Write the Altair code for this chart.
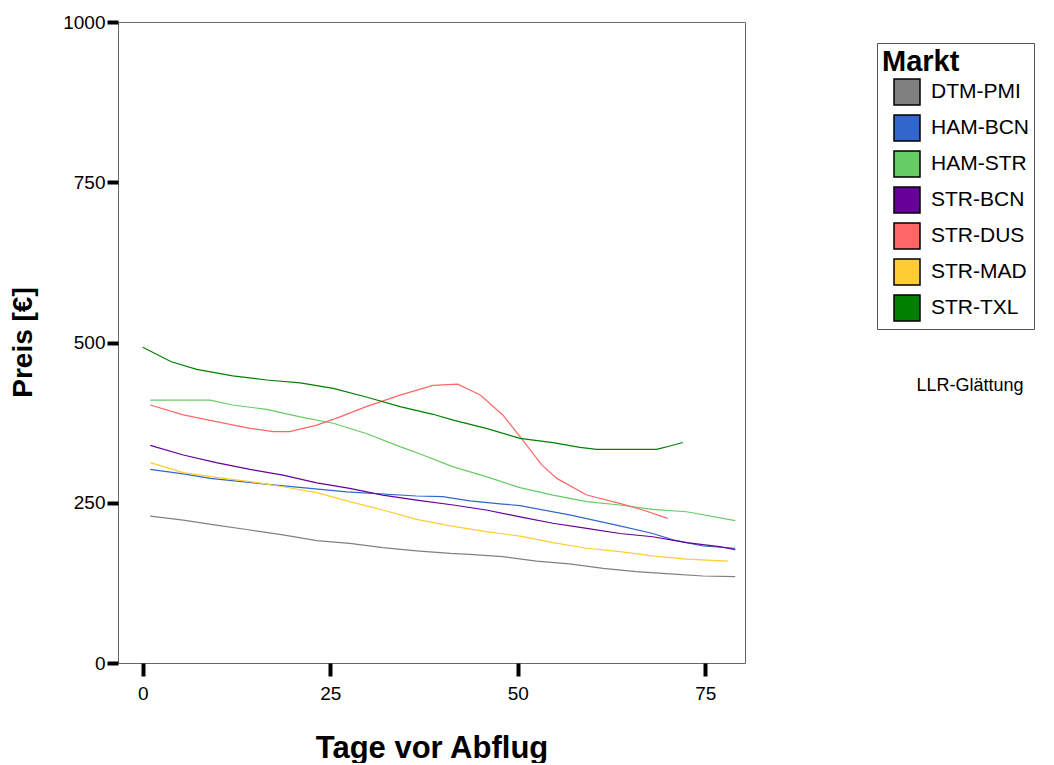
import altair as alt
import pandas as pd

markets = ["DTM-PMI", "HAM-BCN", "HAM-STR", "STR-BCN", "STR-DUS", "STR-MAD", "STR-TXL"]
colors = ["#808080", "#3366CC", "#66CC66", "#660099", "#FF6666", "#FFCC33", "#008000"]

dtm_pmi_days = [1, 5.4, 9.8, 14.3, 18.7, 23.2, 27.6, 32, 36.5, 41, 43.6, 48, 52.5, 56.9, 61.4, 65.8, 70.3, 74.7, 79]
dtm_pmi_vals = [229, 223, 215, 207.5, 200, 191, 186.7, 180, 175, 171, 169.5, 166, 159, 154.5, 147.7, 142.5, 139, 135.7, 134.6]

ham_bcn_days = [1, 5.4, 9, 17.4, 27.2, 36.5, 40, 43.6, 48, 50.3, 56.9, 63.6, 68, 70.7, 74.7, 79]
ham_bcn_vals = [302, 295, 288, 278, 267, 260.5, 259.5, 253, 248, 245.5, 231, 214, 202, 192, 182.5, 179]

ham_str_days = [1, 9, 12, 16.5, 21, 25.4, 29.8, 34.3, 37, 41.4, 45.8, 50.3, 54.7, 59.2, 63.6, 68, 72.5, 79]
ham_str_vals = [410, 410, 402.5, 395.7, 384, 374, 358, 337.5, 326, 306, 290.7, 273.5, 262, 251.7, 246.5, 239.7, 236, 222]

str_bcn_days = [1, 5.4, 9.8, 14.3, 18.7, 23.2, 27.6, 32, 36.5, 41.4, 45.8, 50.3, 54.7, 59.2, 63.6, 68, 72.5, 76.9, 79]
str_bcn_vals = [339.6, 324.5, 312.5, 302, 293, 281, 272.5, 262, 254, 246.5, 238.7, 228, 218, 210, 202, 197, 187.7, 181.5, 177]

str_dus_days = [1, 5.4, 9.8, 14.3, 17.4, 19.6, 23.2, 26.3, 29.8, 34.3, 38.7, 42, 45, 48, 50.3, 53.2, 55.2, 59.2, 63.6, 66.7, 70]
str_dus_vals = [402.5, 387, 376.5, 366, 361, 361, 371, 384, 400, 418, 433, 435, 418, 387, 353, 309, 288, 262, 249, 238.7, 225.7]

str_mad_days = [1, 5.4, 9.8, 14.3, 18.7, 23.2, 27.6, 32, 36.5, 41, 45.8, 50.3, 54.7, 59.2, 63.6, 68, 72.5, 78]
str_mad_vals = [312.5, 297, 289.7, 283, 275, 265.7, 251.7, 238.7, 224, 214, 205, 198, 187.7, 179, 173.7, 167, 162, 159]

str_txl_days = [0, 3.8, 7.2, 12, 16.5, 21, 25.4, 29.8, 34.3, 38.7, 41.4, 45.8, 50.3, 54.7, 58.3, 60.5, 68.5, 70.3, 72]
str_txl_vals = [492.5, 470, 458, 448, 441.5, 437, 428.5, 415, 400, 388, 379, 366, 350.5, 343.7, 336.5, 333.4, 333.4, 338.5, 344]

series = {
    "DTM-PMI": (dtm_pmi_days, dtm_pmi_vals),
    "HAM-BCN": (ham_bcn_days, ham_bcn_vals),
    "HAM-STR": (ham_str_days, ham_str_vals),
    "STR-BCN": (str_bcn_days, str_bcn_vals),
    "STR-DUS": (str_dus_days, str_dus_vals),
    "STR-MAD": (str_mad_days, str_mad_vals),
    "STR-TXL": (str_txl_days, str_txl_vals),
}

rows = []
for m in markets:
    d, v = series[m]
    for a, b in zip(d, v):
        rows.append({"market": m, "day": a, "price": b})
df = pd.DataFrame(rows)

FONT = "Liberation Sans"
color_scale = alt.Scale(domain=markets, range=colors)

lines = alt.Chart(df).mark_line(strokeWidth=1.2, clip=True).encode(
    x=alt.X("day:Q",
            scale=alt.Scale(domain=[-3.3, 80.3], nice=False, zero=False),
            axis=alt.Axis(values=[0, 25, 50, 75], title="Tage vor Abflug", format="d",
                          tickSize=13, labelPadding=8,
                          titleX=313.5, titleY=94, titleBaseline="alphabetic",
                          titleAlign="center")),
    y=alt.Y("price:Q",
            scale=alt.Scale(domain=[0, 1000], nice=False),
            axis=alt.Axis(values=[0, 250, 500, 750, 1000], title="Preis [€]", format="d",
                          tickSize=11, labelPadding=2,
                          titleX=-87, titleY=320, titleAngle=270,
                          titleBaseline="alphabetic", titleAlign="center")),
    color=alt.Color("market:N", scale=color_scale, legend=None),
)

# legend carrier: filled squares placed off-canvas, only their legend is visible
legend_df = pd.DataFrame({"market": markets})
keys = alt.Chart(legend_df).mark_square(filled=True, stroke="black", strokeWidth=1.5, size=676, opacity=1).encode(
    x=alt.value(-3000), y=alt.value(-3000),
    color=alt.Color("market:N", scale=color_scale,
                    legend=alt.Legend(
                        title="Markt", orient="none", legendX=759, legendY=21,
                        symbolType="square", symbolSize=676,
                        symbolStrokeColor="black", symbolStrokeWidth=1.5,
                        symbolOpacity=1,
                        symbolOffset=11,
                        labelOffset=10, rowPadding=4,
                        padding=5, strokeColor="#555555",
                        fillColor="white",
                        titleFontSize=29, titleFont=FONT, titleFontWeight="bold",
                        titleColor="black", titlePadding=1,
                        labelFontSize=21, labelFont=FONT, labelColor="black",
                    )),
)

note = alt.Chart(pd.DataFrame({"t": ["LLR-Glättung"]})).mark_text(
    font=FONT, fontSize=18, color="black", align="center", baseline="middle"
).encode(text="t:N", x=alt.value(852), y=alt.value(364))

chart = alt.layer(lines, keys, note).resolve_legend(color="independent").properties(
    width=627, height=641,
    autosize=alt.AutoSizeParams(type="none"),
    padding={"left": 110, "top": 14, "right": 300, "bottom": 100},
).configure_view(
    stroke="#666666", strokeWidth=1
).configure_axis(
    domain=False, grid=False,
    tickColor="black", tickWidth=4,
    labelFont=FONT, labelFontSize=19, labelColor="black",
    titleFont=FONT, titleFontWeight="bold", titleColor="black",
).configure_axisX(
    titleFontSize=31
).configure_axisY(
    titleFontSize=28
)

chart.save("out.html", embed_options={"renderer": "svg", "actions": False})
